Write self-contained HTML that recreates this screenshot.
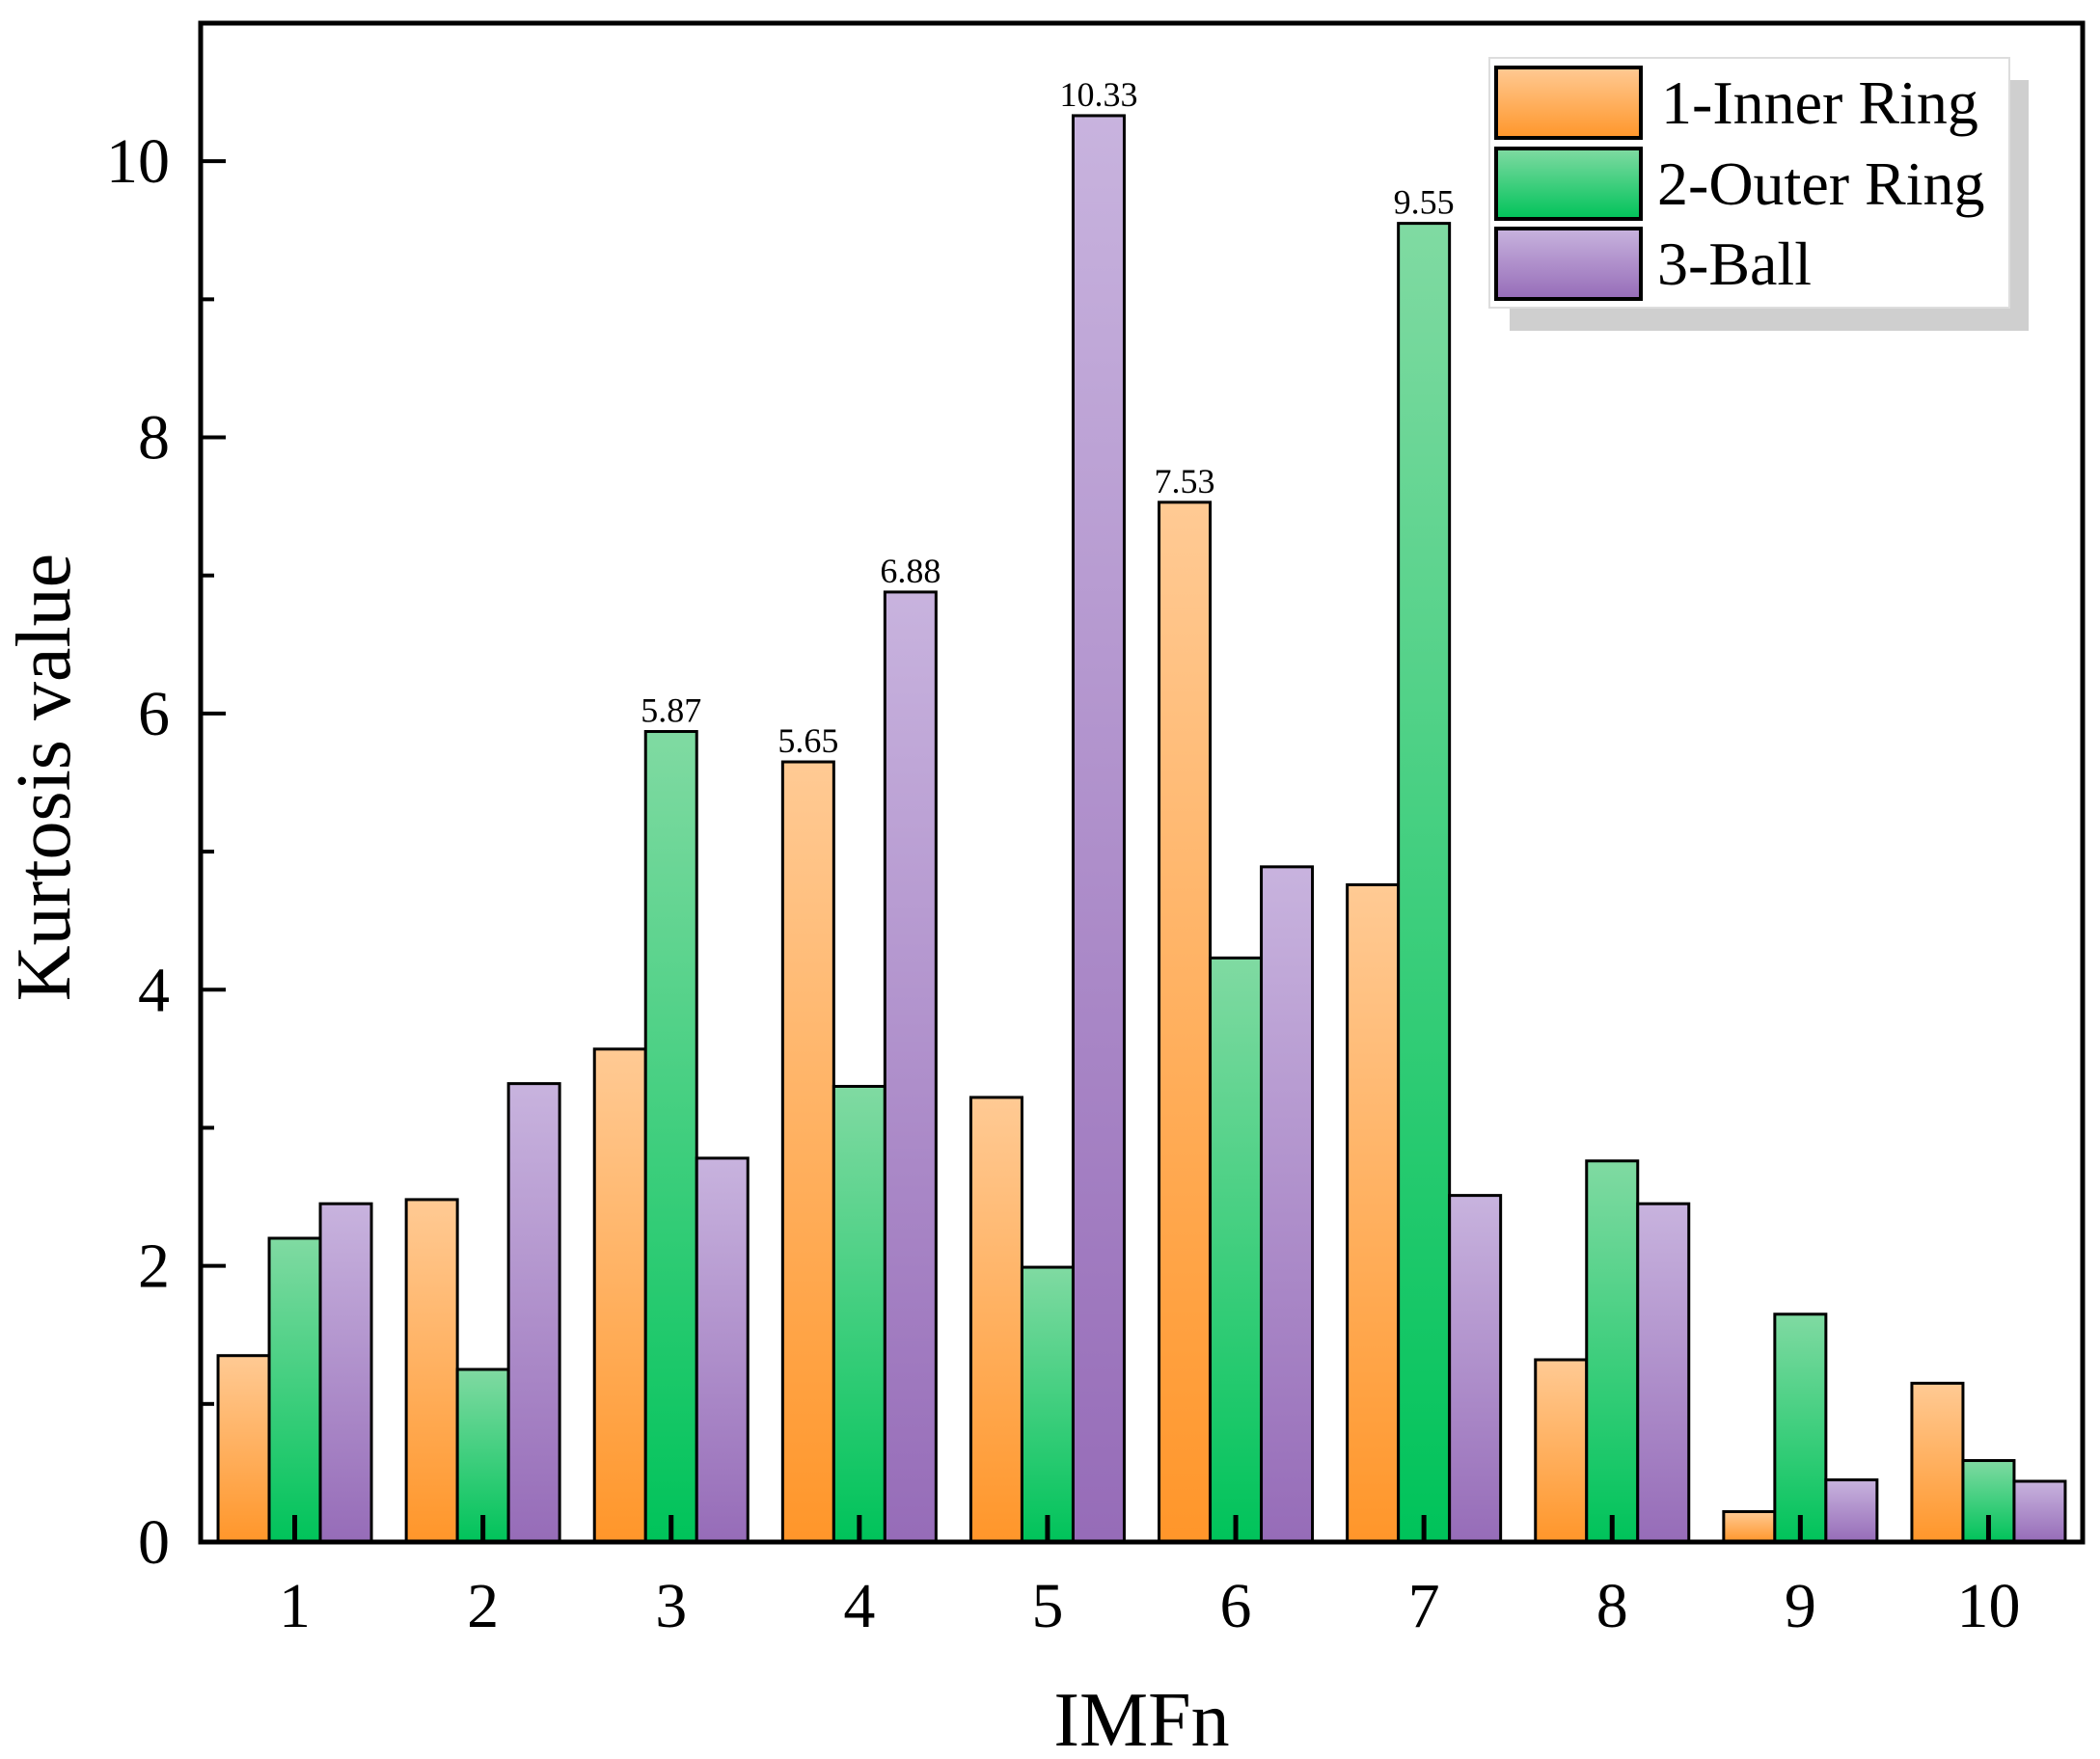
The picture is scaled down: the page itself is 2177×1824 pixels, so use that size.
<!DOCTYPE html>
<html><head><meta charset="utf-8"><style>
body{margin:0;background:#fff}
svg{display:block;font-family:"Liberation Serif",serif}
</style></head><body>
<svg id="c" width="2177" height="1824" viewBox="0 0 2177 1824">
<defs>
<linearGradient id="gO" x1="0" y1="0" x2="0" y2="1"><stop offset="0" stop-color="#ffca94"/><stop offset="1" stop-color="#ff962a"/></linearGradient>
<linearGradient id="gG" x1="0" y1="0" x2="0" y2="1"><stop offset="0" stop-color="#80daa2"/><stop offset="1" stop-color="#00c35a"/></linearGradient>
<linearGradient id="gP" x1="0" y1="0" x2="0" y2="1"><stop offset="0" stop-color="#c8b3de"/><stop offset="1" stop-color="#966cb8"/></linearGradient>
</defs>
<g id="bars"></g>
<g id="axes"></g>
<g id="legend">
<rect x="1565" y="83" width="538" height="260" fill="#cfcfcf"/>
<rect x="1544" y="60" width="539" height="259" fill="#fff" stroke="#ddd" stroke-width="2"/>
<g><rect x="1551" y="70" width="150" height="73" fill="url(#gO)" stroke="#000" stroke-width="4"/><text x="1722" y="128" font-size="64">1-Inner Ring</text></g>
<g><rect x="1551" y="154" width="150" height="73" fill="url(#gG)" stroke="#000" stroke-width="4"/><text x="1718" y="212" font-size="64">2-Outer Ring</text></g>
<g><rect x="1551" y="237" width="150" height="73" fill="url(#gP)" stroke="#000" stroke-width="4"/><text x="1718" y="295" font-size="64">3-Ball</text></g>
</g>
</svg>
<script>
const categories=["1","2","3","4","5","6","7","8","9","10"];
const innerRing=[1.35,2.48,3.57,5.65,3.22,7.53,4.76,1.32,0.22,1.15];
const outerRing=[2.2,1.25,5.87,3.3,1.99,4.23,9.55,2.76,1.65,0.59];
const ball=[2.45,3.32,2.78,6.88,10.33,4.89,2.51,2.45,0.45,0.44];
const yTicks=[0,2,4,6,8,10];
const labelled=[[2,1],[3,0],[3,2],[4,2],[5,0],[6,1]];
const L=208,R=2159,T=24,B=1599,YMAX=11;
const xs=i=>L+(i+0.5)*(R-L)/categories.length;
const ys=v=>B-v*(B-T)/YMAX;
const NS="http://www.w3.org/2000/svg";
function mk(t,a,p){const e=document.createElementNS(NS,t);for(const k in a)e.setAttribute(k,a[k]);p.appendChild(e);return e;}
const bars=document.getElementById('bars'),axes=document.getElementById('axes');
const series=[innerRing,outerRing,ball],fills=["url(#gO)","url(#gG)","url(#gP)"],names=["inner-ring","outer-ring","ball"];
const bw=53;
series.forEach((s,j)=>{s.forEach((v,i)=>{
 const x=xs(i)+(j-1)*bw-bw/2;
 const r=mk('rect',{x:x,y:ys(v),width:bw,height:ys(0)-ys(v),fill:fills[j],stroke:'#000','stroke-width':3},bars);
 
 
});});
labelled.forEach(([i,j])=>{
 const v=series[j][i];
 const t=mk('text',{x:xs(i)+(j-1)*bw,y:ys(v)-10,'font-size':36,'text-anchor':'middle'},bars);
 t.textContent=v.toFixed(2);
 
 
});
const fr=mk('rect',{x:L,y:T,width:R-L,height:B-T,fill:'none',stroke:'#000','stroke-width':5},axes);


categories.forEach((c,i)=>{
 mk('line',{x1:xs(i),x2:xs(i),y1:B,y2:B-28,stroke:'#000','stroke-width':5},axes);
 const t=mk('text',{x:xs(i),y:B+88,'font-size':66,'text-anchor':'middle'},axes);
 t.textContent=c;
 
 
});
for(let v=0;v<=YMAX;v++){
 mk('line',{x1:L,x2:L+(v%2?14:26),y1:ys(v),y2:ys(v),stroke:'#000','stroke-width':4},axes);
}
yTicks.forEach(v=>{
 const t=mk('text',{x:176,y:ys(v)+22,'font-size':66,'text-anchor':'end'},axes);
 t.textContent=v;
 
 
});
const xt=mk('text',{x:(L+R)/2,y:1810,'font-size':80,'text-anchor':'middle'},axes);
xt.textContent='IMFn';


const yt=mk('text',{x:0,y:0,'font-size':80,'text-anchor':'middle',transform:'translate(72 806) rotate(-90)'},axes);
yt.textContent='Kurtosis value';


</script>
</body></html>
